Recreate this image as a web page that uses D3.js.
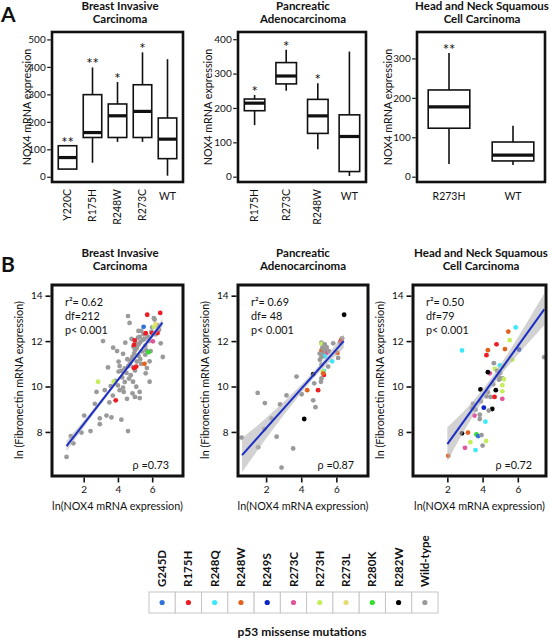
<!DOCTYPE html>
<html><head><meta charset="utf-8">
<script src="https://cdn.jsdelivr.net/npm/d3@7/dist/d3.min.js"></script>
<style>body{margin:0;background:#fff}svg text{font-family:Lato,'Open Sans',sans-serif;fill:#111}</style>
</head><body>
<svg id="c" width="550" height="638" xmlns="http://www.w3.org/2000/svg"></svg>
<script>
// ---------- DATA ----------
const boxTitles = [["Breast Invasive","Carcinoma"],["Pancreatic","Adenocarcinoma"],["Head and Neck Squamous","Cell Carcinoma"]];
const boxCats1 = ["Y220C","R175H","R248W","R273C","WT"];
const boxStats1 = [[28,28,70,113,113],[51,143,161,299,398],[127,143,222,265,345],[127,143,238,335,453],[4,66,137,214,428]]; // min,q1,med,q3,max
const boxSig1 = ["**","**","*","*",""];
const boxTicks1 = [0,100,200,300,400,500];
const boxCats2 = ["R175H","R273C","R248W","WT"];
const boxStats2 = [[150,192,214,226,238],[250,270,293,332,369],[80,126,177,225,272],[2,15,117,180,364]];
const boxSig2 = ["*","*","*",""];
const boxTicks2 = [0,100,200,300,400];
const boxCats3 = ["R273H","WT"];
const boxStats3 = [[32,123,177,220,314],[30,40,55,88,129]];
const boxSig3 = ["**",""];
const boxTicks3 = [0,100,200,300];

const mutations = ["G245D","R175H","R248Q","R248W","R249S","R273C","R273H","R273L","R280K","R282W","Wild-type"];
const mutColors = ["#2f72d8","#ee1c25","#3ee8f8","#e2611e","#0b22c8","#e3559b","#c5ee5d","#e6dc74","#2fe02f","#000000","#9a9a9a"];

// scatter points: [mutation, ln NOX4, ln Fibronectin]
const W = "Wild-type";
const pts1 = [
[W,4.59,13.10],[W,4.68,12.80],[W,6.10,13.01],[W,5.36,12.45],[W,5.17,12.15],[W,5.27,12.18],[W,3.13,12.00],[W,4.43,11.93],[W,3.72,11.71],[W,3.95,11.56],[W,4.30,11.44],[W,4.04,11.10],[W,6.62,11.30],[W,3.42,10.84],[W,4.04,10.66],[W,4.20,10.69],[W,5.85,11.11],[W,5.69,10.81],[W,5.62,10.58],[W,5.85,10.21],[W,2.75,9.76],[W,3.23,9.84],[W,3.58,10.02],[W,4.10,9.84],[W,4.34,9.76],[W,4.88,10.21],[W,5.07,9.99],[W,5.27,9.76],[W,4.99,9.54],[W,5.27,9.49],[W,4.53,9.46],[W,2.65,9.24],[W,3.33,8.72],[W,3.62,8.64],[W,2.94,8.60],[W,2.94,8.34],[W,2.03,8.72],[W,4.20,8.54],[W,4.59,8.04],[W,1.87,7.97],[W,2.40,8.04],[W,1.25,7.82],[W,5.91,11.56],[W,6.14,12.95],
[W,4.5,10.6],[W,4.6,10.9],[W,4.7,11.0],[W,4.75,11.15],[W,4.85,11.3],[W,4.95,11.45],[W,5.0,11.6],[W,5.1,11.7],[W,5.2,11.85],[W,5.3,11.95],[W,5.45,12.05],[W,5.55,12.1],[W,5.4,11.55],[W,5.2,11.35],[W,4.9,10.85],[W,4.65,10.35],[W,4.4,10.2],[W,4.75,10.5],[W,5.1,11.1],[W,5.3,11.2],[W,5.6,11.8],[W,5.5,12.3],[W,5.75,12.2],[W,5.95,12.4],[W,6.0,12.6],[W,4.25,10.4],[W,4.0,10.05],[W,3.85,10.25],[W,4.3,9.95],[W,4.85,9.7],[W,5.05,11.9],[W,4.9,11.75],[W,5.2,12.45],[W,4.8,12.1],[W,5.6,11.4],[W,5.8,12.0],[W,6.2,12.3],[W,6.3,12.7],[W,6.4,12.5],[W,5.35,11.0],[W,4.55,11.2],[W,4.4,10.8],[W,3.7,9.6],[W,3.5,9.3],[W,4.1,10.9],[W,5.0,10.7],[W,5.65,11.6],[W,6.5,11.9],[W,1.0,6.9],[W,1.4,7.5],
["R175H",5.71,13.16],["R175H",6.47,13.24],["G245D",5.50,12.63],["R273H",6.10,12.63],["R175H",5.62,12.35],["R175H",6.0,12.35],["R175H",6.31,12.36],["R175H",4.94,11.83],["R175H",4.98,12.03],["R273C",6.04,11.99],["R280K",5.79,11.51],["R175H",5.07,10.88],["R175H",4.94,10.81],["R273H",2.84,10.21],["R273H",3.75,10.21],["R175H",3.87,9.39],["R248W",5.55,11.0],["R273L",6.2,12.75]];
const pts2 = [
["R282W",6.44,13.16],[W,5.15,11.93],["R273H",5.15,11.88],[W,5.34,11.85],[W,5.82,11.90],[W,6.2,11.93],["R248W",6.29,12.08],[W,6.33,12.12],["R175H",6.25,12.0],["R248W",5.15,11.59],["R175H",5.34,11.53],["R273C",5.44,11.48],[W,5.57,11.56],[W,5.25,11.45],["R248W",6.06,11.48],["R248Q",5.34,11.33],[W,5.15,11.29],[W,5.06,11.18],[W,6.1,11.26],["R248Q",5.76,11.11],[W,5.15,10.96],[W,5.53,10.88],["R282W",4.68,10.54],[W,3.73,10.44],["R248Q",5.29,10.69],["R273H",5.23,10.66],["R175H",5.29,10.51],["R248W",5.25,10.58],[W,5.15,10.36],[W,5.12,10.21],[W,4.74,10.14],["R248W",4.34,9.84],["R175H",4.96,9.84],[W,1.52,9.72],[W,3.16,9.61],[W,4.02,9.66],[W,1.93,9.27],[W,2.79,9.21],[W,4.68,9.39],[W,4.81,9.09],[W,2.31,8.60],["R282W",4.17,8.57],[W,1.90,8.12],[W,0.61,7.75],[W,2.6,7.79],[W,1.55,7.33],[W,3.54,7.27],[W,2.88,6.43],[W,5.2,11.7],[W,5.3,11.62],[W,5.45,11.72],[W,5.05,11.45]];
const pts3 = [
["R248Q",5.88,12.60],["R248W",5.46,12.42],["R273H",5.54,12.04],["R248Q",2.83,11.59],["R248W",4.30,11.60],["R175H",4.79,11.86],["R248W",5.27,11.65],["R249S",6.07,11.63],[W,7.50,11.29],["R175H",4.22,11.38],["R273H",5.69,11.18],[W,4.64,11.03],["R248Q",4.98,10.93],["R273H",4.70,10.78],[W,4.83,10.69],["R273C",4.41,10.58],["R282W",4.30,10.63],[W,5.12,10.36],["R273H",5.21,10.32],[W,4.93,10.30],["R273H",5.12,10.06],["R282W",3.88,9.87],["R282W",4.75,9.84],["R273H",5.12,9.79],[W,4.22,9.57],[W,4.45,9.54],["R175H",4.68,9.54],["R273C",5.12,9.46],[W,3.46,9.24],[W,3.40,9.04],["R249S",4.07,9.07],[W,3.60,8.98],["R282W",4.55,9.01],[W,4.35,8.94],["R273C",3.54,8.72],[W,3.84,8.76],[W,3.84,8.57],["R248Q",4.16,8.45],["R282W",2.83,7.94],["R248W",3.17,7.97],["R280K",3.65,7.89],["G245D",3.75,7.82],[W,3.94,7.86],["R273H",3.31,7.55],["R248W",2.05,6.95],["R273C",3.0,7.3],["R248Q",3.6,7.2],[W,4.0,7.4],["R273H",4.2,7.6],[W,4.6,10.1],[W,4.9,10.45],[W,4.3,9.75],[W,3.9,9.35],[W,5.0,10.6],["R273L",5.2,10.9]];

const scTitles = boxTitles;
const scStats = [["r²= 0.62","df=212","p< 0.001"],["r²= 0.69","df= 48","p< 0.001"],["r²= 0.50","df=79","p< 0.001"]];
const scRho = ["ρ =0.73","ρ =0.87","ρ =0.72"];
const fitSlope = [0.97,0.867,1.08];
const fitIntercept = [6.41,6.43,5.30];
const fitRange = [[1.0,6.6],[0.63,6.42],[2.0,7.5]];
const ciX = [[1.0,2.5,4.3,5.5,6.6],[0.63,2.0,3.6,5.0,6.42],[2.0,3.2,4.6,6.0,7.5]];
const ciHalf = [[0.22,0.12,0.07,0.09,0.17],[0.75,0.45,0.22,0.15,0.3],[0.75,0.38,0.22,0.38,0.7]];
const scXTicks = [2,4,6];
const scYTicks = [8,10,12,14];

// ---------- DRAW ----------
const svg = d3.select("#c");
const color = d3.scaleOrdinal().domain(mutations).range(mutColors);

svg.append("text").attr("x",1).attr("y",21.5).attr("font-size",21).attr("font-weight",700).text("A");
svg.append("text").attr("x",1).attr("y",271.5).attr("font-size",21).attr("font-weight",700).text("B");

function boxPanel(cfg){
  const x = d3.scaleBand().domain(cfg.cats).range([cfg.x0,cfg.x1]).paddingInner(cfg.pi).paddingOuter(cfg.po);
  const y = d3.scaleLinear().domain(cfg.dom).range([182,32]);
  const g = svg.append("g");
  const data = cfg.cats.map((c,i)=>({c, s:cfg.stats[i], sig:cfg.sig[i]}));
  const b = g.selectAll("g.box").data(data).join("g").attr("class","box");
  const cx = d => x(d.c)+x.bandwidth()/2;
  b.append("line").attr("x1",cx).attr("x2",cx).attr("y1",d=>y(d.s[4])).attr("y2",d=>y(d.s[0])).attr("stroke","#111").attr("stroke-width",1.6);
  b.append("rect").attr("x",d=>x(d.c)).attr("width",x.bandwidth()).attr("y",d=>y(d.s[3])).attr("height",d=>y(d.s[1])-y(d.s[3]))
    .attr("fill","#fff").attr("stroke","#111").attr("stroke-width",1.6);
  b.append("line").attr("x1",d=>x(d.c)).attr("x2",d=>x(d.c)+x.bandwidth()).attr("y1",d=>y(d.s[2])).attr("y2",d=>y(d.s[2])).attr("stroke","#111").attr("stroke-width",3.2);
  b.append("text").attr("x",cx).attr("y",d=>y(d.s[4])+2).attr("text-anchor","middle").attr("font-size",15).text(d=>d.sig);
  g.append("rect").attr("x",cfg.x0).attr("y",32).attr("width",cfg.x1-cfg.x0).attr("height",150).attr("fill","none").attr("stroke","#111").attr("stroke-width",2.6);
  const ax = g.append("g").attr("transform",`translate(${cfg.x0-1.3},0)`).call(d3.axisLeft(y).tickValues(cfg.ticks).tickSize(3.5).tickPadding(1.5));
  ax.select(".domain").remove();
  ax.selectAll("line").attr("stroke","#111").attr("stroke-width",1.2);
  ax.selectAll("text").attr("font-size",10).attr("font-family",null).style("fill","#111");
  // x labels
  g.selectAll("text.xl").data(cfg.cats).join("text").attr("class","xl").attr("font-size",10.5)
    .each(function(c){
      const t = d3.select(this), px = x(c)+x.bandwidth()/2;
      if (c.length>2 && cfg.rotate) t.attr("transform",`translate(${px},189) rotate(-90)`).attr("text-anchor","end").attr("dy","0.35em");
      else t.attr("x",px).attr("y",200).attr("text-anchor","middle");
    }).text(c=>c);
  g.append("text").attr("x",cfg.tx).attr("y",9.5).attr("text-anchor","middle").attr("font-size",11.5).attr("font-weight",700).text(cfg.title[0]);
  g.append("text").attr("x",cfg.tx).attr("y",22.5).attr("text-anchor","middle").attr("font-size",11.5).attr("font-weight",700).text(cfg.title[1]);
  g.append("text").attr("transform",`translate(${cfg.lx},107) rotate(-90)`).attr("text-anchor","middle").attr("dy","0.35em").attr("font-size",10.8).text("NOX4 mRNA expression");
}
boxPanel({cats:boxCats1,stats:boxStats1,sig:boxSig1,ticks:boxTicks1,x0:52,x1:183,pi:0.26,po:0.25,dom:[-19,527],title:boxTitles[0],tx:120,lx:27,rotate:true});
boxPanel({cats:boxCats2,stats:boxStats2,sig:boxSig2,ticks:boxTicks2,x0:238,x1:366,pi:0.35,po:0.2,dom:[-15.4,421],title:boxTitles[1],tx:303,lx:208,rotate:true});
boxPanel({cats:boxCats3,stats:boxStats3,sig:boxSig3,ticks:boxTicks3,x0:417,x1:545,pi:0.35,po:0.175,dom:[-13.4,367],title:boxTitles[2],tx:482,lx:388,rotate:false});

function scatterPanel(i,cfg){
  const x = d3.scaleLinear().domain(cfg.xd).range([cfg.x0,cfg.x1]);
  const y = d3.scaleLinear().domain([6.06,14.47]).range([476,285]);
  const g = svg.append("g");
  g.append("rect").attr("x",cfg.x0).attr("y",285).attr("width",cfg.x1-cfg.x0).attr("height",191).attr("fill","#fff");
  g.selectAll("circle").data(cfg.pts).join("circle").attr("cx",d=>x(d[1])).attr("cy",d=>y(d[2])).attr("r",2.4)
    .attr("fill",d=>color(d[0]));
  const band = ciX[i].map((v,k)=>({x:v, lo:fitIntercept[i]+fitSlope[i]*v-ciHalf[i][k], hi:fitIntercept[i]+fitSlope[i]*v+ciHalf[i][k]}));
  g.append("path").datum(band).attr("d",d3.area().x(d=>x(d.x)).y0(d=>y(d.lo)).y1(d=>y(d.hi)).curve(d3.curveNatural))
    .attr("fill","#b4b4b4").attr("opacity",0.6);
  const fr = fitRange[i];
  g.append("line").attr("x1",x(fr[0])).attr("x2",x(fr[1])).attr("y1",y(fitIntercept[i]+fitSlope[i]*fr[0])).attr("y2",y(fitIntercept[i]+fitSlope[i]*fr[1]))
    .attr("stroke","#1c2fc4").attr("stroke-width",2);
  g.append("rect").attr("x",cfg.x0).attr("y",285).attr("width",cfg.x1-cfg.x0).attr("height",191).attr("fill","none").attr("stroke","#111").attr("stroke-width",3);
  const ay = g.append("g").attr("transform",`translate(${cfg.x0-1.5},0)`).call(d3.axisLeft(y).tickValues(scYTicks).tickSize(5).tickPadding(3));
  const axx = g.append("g").attr("transform",`translate(0,${476+1.5})`).call(d3.axisBottom(x).tickValues(scXTicks).tickSize(5).tickPadding(3));
  [ay,axx].forEach(a=>{a.select(".domain").remove();a.selectAll("line").attr("stroke","#111").attr("stroke-width",1.6);
    a.selectAll("text").attr("font-size",10).attr("font-family",null).style("fill","#111");});
  g.selectAll("text.st").data(scStats[i]).join("text").attr("class","st").attr("x",cfg.x0+13).attr("y",(d,k)=>306+k*14.2).attr("font-size",10.8).text(d=>d);
  g.append("text").attr("x",cfg.x1-14).attr("y",469).attr("text-anchor","end").attr("font-size",10.8).text(scRho[i]);
  const tx=(cfg.x0+cfg.x1)/2;
  g.append("text").attr("x",cfg.tx).attr("y",256.5).attr("text-anchor","middle").attr("font-size",11.5).attr("font-weight",700).text(scTitles[i][0]);
  g.append("text").attr("x",cfg.tx).attr("y",270).attr("text-anchor","middle").attr("font-size",11.5).attr("font-weight",700).text(scTitles[i][1]);
  g.append("text").attr("x",tx).attr("y",510).attr("text-anchor","middle").attr("font-size",10.8).text("ln(NOX4 mRNA expression)");
  g.append("text").attr("transform",`translate(${cfg.x0-33},380) rotate(-90)`).attr("text-anchor","middle").attr("dy","0.35em").attr("font-size",10.8).text("ln (Fibronectin mRNA expression)");
}
scatterPanel(0,{pts:pts1,x0:52,x1:183,xd:[0.15,7.8],tx:120});
scatterPanel(1,{pts:pts2,x0:238,x1:368,xd:[0.4,7.8],tx:303});
scatterPanel(2,{pts:pts3,x0:413,x1:546,xd:[0.05,7.6],tx:481});

// legend
const lx = d3.scaleBand().domain(mutations).range([149,438]);
const lg = svg.append("g");
lg.selectAll("rect").data(mutations).join("rect").attr("x",d=>lx(d)).attr("y",592).attr("width",lx.bandwidth()).attr("height",21)
  .attr("fill","#fff").attr("stroke","#c6c6c6").attr("stroke-width",1);
lg.selectAll("circle").data(mutations).join("circle").attr("cx",d=>lx(d)+lx.bandwidth()/2).attr("cy",602.5).attr("r",2.6).attr("fill",d=>color(d));
lg.selectAll("text").data(mutations).join("text").attr("transform",d=>`translate(${lx(d)+lx.bandwidth()/2},587) rotate(-90)`)
  .attr("dy","0.35em").attr("font-size",11.5).attr("font-weight",700).text(d=>d);
svg.append("text").attr("x",302).attr("y",636).attr("text-anchor","middle").attr("font-size",12).attr("font-weight",700).text("p53 missense mutations");
</script>
</body></html>
